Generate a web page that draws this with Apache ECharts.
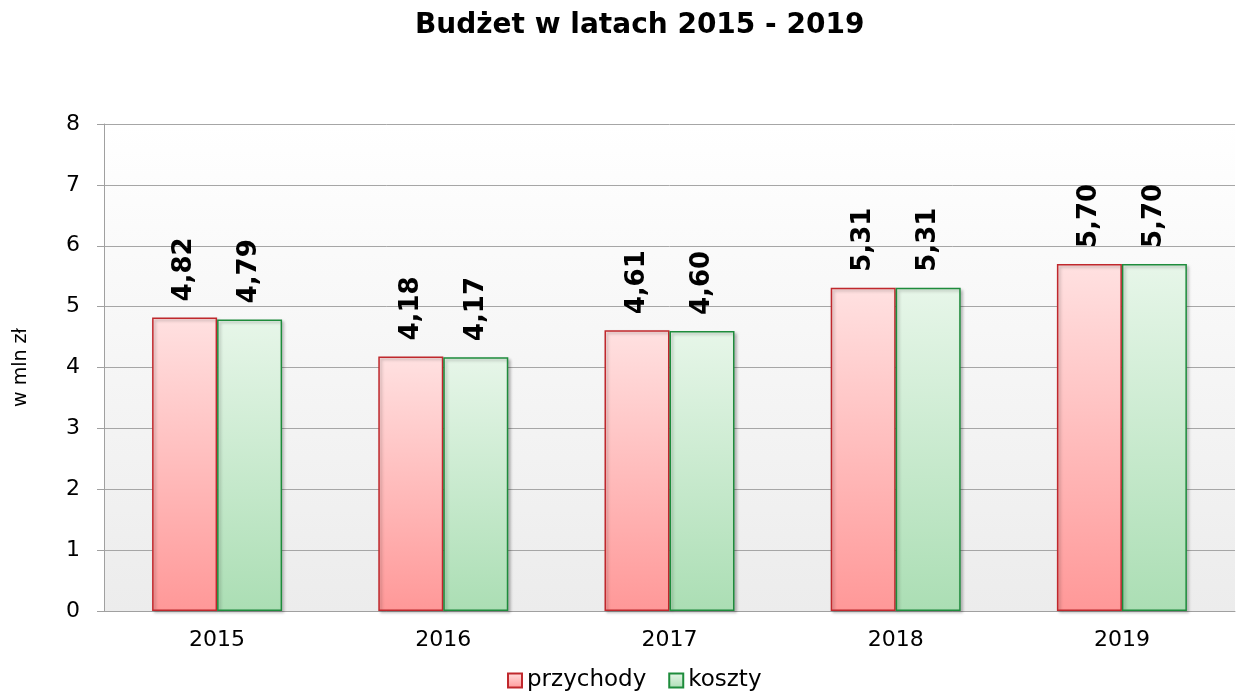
<!DOCTYPE html>
<html>
<head>
<meta charset="utf-8">
<script src="https://cdn.jsdelivr.net/npm/echarts@6/dist/echarts.min.js"></script>
<style>html,body{margin:0;padding:0;background:#fff}#c{width:1237px;height:693px}</style>
</head>
<body>
<div id="c"></div>
<script>
const categories = ['2015', '2016', '2017', '2018', '2019'];
const przychody = [4.82, 4.18, 4.61, 5.31, 5.70];
const koszty = [4.79, 4.17, 4.60, 5.31, 5.70];
const yTicks = [0, 8, 1];

const F = '"DejaVu Sans", Verdana, sans-serif';
const grad = (a, b) => ({type: 'linear', x: 0, y: 0, x2: 0, y2: 1, colorStops: [{offset: 0, color: a}, {offset: 1, color: b}]});
const lbl = {
  show: true, position: 'top', rotate: 90, align: 'left', verticalAlign: 'middle', distance: 16,
  fontFamily: F, fontWeight: 'bold', fontSize: 26, color: '#000',
  formatter: p => p.value.toFixed(2).replace('.', ',')
};
const chart = echarts.init(document.getElementById('c'));
chart.setOption({
  animation: false,
  title: {text: 'Budżet w latach 2015 - 2019', left: 410, top: 7,
    textStyle: {fontFamily: F, fontWeight: 'bold', fontSize: 28, color: '#000'}},
  legend: {top: 664, left: 502, icon: 'rect', itemWidth: 14, itemHeight: 14, itemGap: 22,
    textStyle: {fontFamily: F, fontSize: 23, color: '#000'}},
  grid: {left: 104, right: 2, top: 124, bottom: 82, show: true, borderWidth: 0,
    backgroundColor: grad('#ffffff', '#ececec')},
  xAxis: {type: 'category', data: categories,
    axisLine: {lineStyle: {color: '#a0a0a0'}}, axisTick: {show: false},
    axisLabel: {fontFamily: F, fontSize: 22, color: '#000', margin: 18}},
  yAxis: {type: 'value', min: yTicks[0], max: yTicks[1], interval: yTicks[2],
    name: 'w mln zł', nameLocation: 'middle', nameGap: 73,
    nameTextStyle: {fontFamily: F, fontSize: 19, color: '#000'},
    axisLine: {show: true, lineStyle: {color: '#a0a0a0'}},
    axisTick: {show: true, length: 7, lineStyle: {color: '#a0a0a0'}},
    splitLine: {lineStyle: {color: '#a6a6a6'}},
    axisLabel: {fontFamily: F, fontSize: 22, color: '#000', margin: 24}},
  series: [
    {name: 'przychody', type: 'bar', data: przychody, barWidth: 65, barGap: '0%',
      itemStyle: {color: grad('#ffe1e1', '#ff9898'), borderColor: '#c0282d', borderWidth: 1.5,
        shadowBlur: 3, shadowColor: 'rgba(0,0,0,0.25)', shadowOffsetX: 2, shadowOffsetY: 2},
      label: lbl},
    {name: 'koszty', type: 'bar', data: koszty, barWidth: 65,
      itemStyle: {color: grad('#e7f6e9', '#abdeb4'), borderColor: '#1e8c3c', borderWidth: 1.5,
        shadowBlur: 3, shadowColor: 'rgba(0,0,0,0.25)', shadowOffsetX: 2, shadowOffsetY: 2},
      label: lbl}
  ]
});
</script>
</body>
</html>
